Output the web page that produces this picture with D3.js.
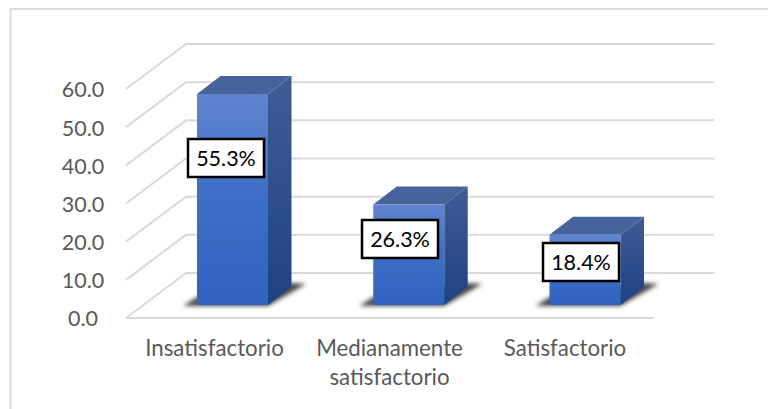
<!DOCTYPE html>
<html><head><meta charset="utf-8">
<script src="https://cdn.jsdelivr.net/npm/d3@7"></script>
<style>html,body{margin:0;padding:0;background:#fff}svg{display:block}text{font-family:Lato,"Open Sans",sans-serif}</style>
</head><body><svg id="c" width="768" height="409"></svg>
<script>
const categories = ["Insatisfactorio", "Medianamente satisfactorio", "Satisfactorio"];
const categoryLines = [["Insatisfactorio"], ["Medianamente", "satisfactorio"], ["Satisfactorio"]];
const values = [55.3, 26.3, 18.4];
const valueLabels = ["55.3%", "26.3%", "18.4%"];
const tickValues = [0, 10, 20, 30, 40, 50, 60];

const svg = d3.select("#c");
const defs = svg.append("defs");
const floorDx = 60, floorDy = -45;
const barDx = 23.5, barDy = -18;
const barLift = 13;
const bw = 71;

const y = d3.scaleLinear().domain([0, 60]).range([318, 89]);
const cx = d3.scalePoint().domain(categories).range([232.5, 585]);

function grad(id, stops, x1, y1, x2, y2) {
  const g = defs.append("linearGradient").attr("id", id)
    .attr("x1", x1).attr("y1", y1).attr("x2", x2).attr("y2", y2);
  stops.forEach(s => g.append("stop").attr("offset", s[0]).attr("stop-color", s[1]));
}
grad("front", [[0, "#6085cf"], [0.45, "#3f6fc8"], [1, "#2f63bf"]], 0, 0, 0, 1);
grad("side", [[0, "#3f5d95"], [1, "#1f4283"]], 0, 0, 0, 1);
defs.append("filter").attr("id", "blur").attr("x", "-30%").attr("y", "-60%").attr("width", "160%").attr("height", "220%")
  .append("feGaussianBlur").attr("stdDeviation", 2.2);

// frame: only top and left edges are visible
svg.append("path").attr("d", d3.line()([[10.5, 409], [10.5, 9], [768, 9]]))
  .attr("fill", "none").attr("stroke", "#dcdcdc").attr("stroke-width", 2);

const grid = svg.append("g").attr("fill", "none").attr("stroke", "#d9d9d9").attr("stroke-width", 2);
tickValues.forEach(t => {
  const py = y(t);
  grid.append("path").attr("d", d3.line()([
    [126, py], [126 + floorDx, py + floorDy], [714, py + floorDy]
  ]));
});
grid.append("path").attr("d", d3.line()([[126, y(0)], [654, y(0)]]));

svg.append("g").selectAll("text").data(tickValues).join("text")
  .attr("x", 83).attr("y", d => y(d) + 0.7).attr("dy", "0.36em")
  .attr("text-anchor", "middle").attr("font-size", 21.5).attr("fill", "#595959")
  .text(d => d3.format(".1f")(d));

const bars = svg.append("g").selectAll("g").data(categories).join("g");
bars.each(function (c, i) {
  const g = d3.select(this);
  const l = cx(c) - bw / 2, r = cx(c) + bw / 2;
  const b = y(0) - barLift, t = y(values[i]) - barLift;
  g.append("path").attr("d", d3.line()([
    [l - 14, b + 1], [r, b + 1], [r + 38, b - 21], [r + 24, b - 22], [l, b - 8]
  ]) + "Z").attr("fill", "#2a2a2a").attr("filter", "url(#blur)").attr("opacity", 0.85);
  g.append("path").attr("d", d3.line()([[r, b], [r + barDx, b + barDy], [r + barDx, t + barDy], [r, t]]) + "Z")
    .attr("fill", "url(#side)");
  g.append("path").attr("d", d3.line()([[l, t], [l + barDx, t + barDy], [r + barDx, t + barDy], [r, t]]) + "Z")
    .attr("fill", "#47639c");
  g.append("rect").attr("x", l).attr("y", t).attr("width", bw).attr("height", b - t)
    .attr("fill", "url(#front)");
});

const labelCx = [226, 400, 581], labelCy = [158, 239, 262];
const lab = svg.append("g").selectAll("g").data(valueLabels).join("g")
  .attr("transform", (d, i) => `translate(${labelCx[i]},${labelCy[i]})`);
lab.append("rect").attr("x", -38).attr("y", -19).attr("width", 76).attr("height", 38)
  .attr("fill", "#fff").attr("stroke", "#000").attr("stroke-width", 2.5);
lab.append("text").attr("text-anchor", "middle").attr("dy", "0.36em")
  .attr("font-size", 21.5).attr("fill", "#000").text(d => d);

const catX = [214.5, 389.5, 565];
categoryLines.forEach((lines, i) => {
  const t = svg.append("text").attr("text-anchor", "middle").attr("font-size", 22.3).attr("fill", "#595959");
  lines.forEach((s, j) => t.append("tspan").attr("x", catX[i]).attr("y", 356 + j * 29).text(s));
});
</script></body></html>
